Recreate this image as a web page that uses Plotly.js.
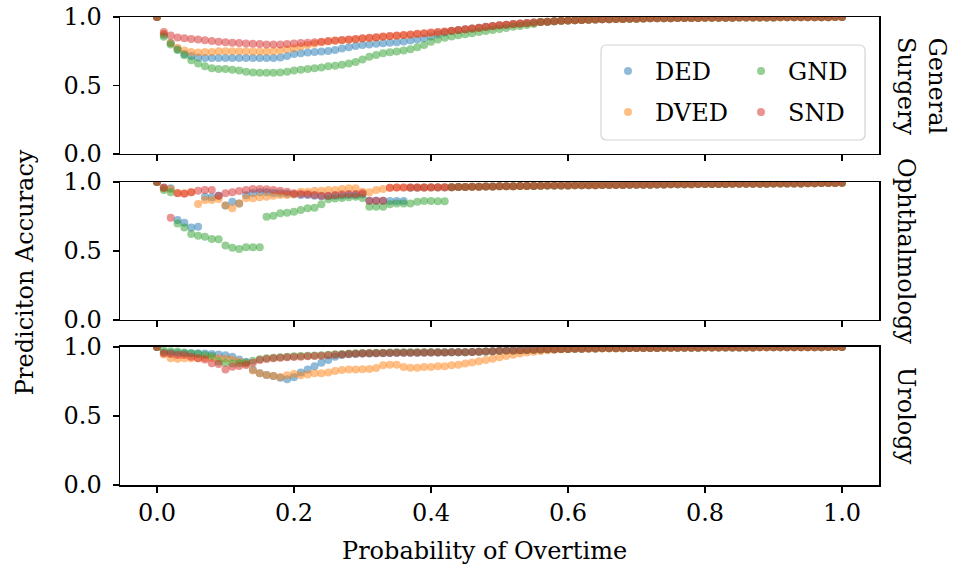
<!DOCTYPE html>
<html>
<head>
<meta charset="utf-8">
<script src="https://cdn.plot.ly/plotly-3.0.1.min.js"></script>
<style>html,body{margin:0;padding:0;background:#fff;}#chart{width:963px;height:573px;}</style>
</head>
<body>
<div id="chart"></div>
<script>
// Probability-of-overtime thresholds (x categories)
const probOvertime = [0,0.01,0.02,0.03,0.04,0.05,0.06,0.07,0.08,0.09,
  0.1,0.11,0.12,0.13,0.14,0.15,0.16,0.17,0.18,0.19,
  0.2,0.21,0.22,0.23,0.24,0.25,0.26,0.27,0.28,0.29,
  0.3,0.31,0.32,0.33,0.34,0.35,0.36,0.37,0.38,0.39,
  0.4,0.41,0.42,0.43,0.44,0.45,0.46,0.47,0.48,0.49,
  0.5,0.51,0.52,0.53,0.54,0.55,0.56,0.57,0.58,0.59,
  0.6,0.61,0.62,0.63,0.64,0.65,0.66,0.67,0.68,0.69,
  0.7,0.71,0.72,0.73,0.74,0.75,0.76,0.77,0.78,0.79,
  0.8,0.81,0.82,0.83,0.84,0.85,0.86,0.87,0.88,0.89,
  0.9,0.91,0.92,0.93,0.94,0.95,0.96,0.97,0.98,0.99,1.0];

const seriesNames = ["DED", "DVED", "GND", "SND"];
const panelNames = ["General<br>Surgery", "Ophthalmology", "Urology"];
const yTickVals = [0, 0.5, 1.0];
const yTickText = ["0.0", "0.5", "1.0"];
const xTickVals = [0, 0.2, 0.4, 0.6, 0.8, 1.0];
const xTickText = ["0.0", "0.2", "0.4", "0.6", "0.8", "1.0"];

// ---------- General Surgery (x = 0 .. 0.55, then shared tail 0.56 .. 1.0)
const gsTail = [0.963,0.966,0.969,0.972,
  0.974,0.976,0.978,0.98,0.982,0.983,0.984,0.985,0.986,0.987,
  0.988,0.989,0.99,0.99,0.991,0.991,0.992,0.992,0.993,0.993,
  0.994,0.994,0.995,0.995,0.995,0.996,0.996,0.996,0.997,0.997,
  0.997,0.998,0.998,0.998,0.998,0.999,0.999,0.999,0.999,1.0,1.0];
const gsDED = [1.0,0.87,0.81,0.765,0.73,0.715,0.705,0.70,0.70,0.70,
  0.70,0.70,0.70,0.70,0.70,0.70,0.70,0.70,0.705,0.715,
  0.73,0.735,0.74,0.745,0.748,0.752,0.76,0.77,0.78,0.788,
  0.795,0.80,0.805,0.808,0.812,0.815,0.822,0.828,0.835,0.845,
  0.858,0.872,0.885,0.897,0.905,0.91,0.916,0.922,0.928,0.934,
  0.94,0.944,0.948,0.952,0.956,0.96].concat(gsTail);
const gsDVED = [1.0,0.875,0.81,0.775,0.755,0.745,0.74,0.745,0.745,0.75,
  0.75,0.75,0.75,0.75,0.748,0.748,0.748,0.75,0.755,0.765,
  0.772,0.785,0.795,0.805,0.815,0.822,0.826,0.83,0.834,0.838,
  0.843,0.847,0.851,0.855,0.859,0.863,0.867,0.871,0.875,0.879,
  0.884,0.888,0.893,0.898,0.903,0.908,0.914,0.92,0.926,0.932,
  0.938,0.943,0.947,0.951,0.955,0.959].concat(gsTail);
const gsGND = [1.0,0.855,0.80,0.76,0.72,0.685,0.66,0.64,0.625,0.62,
  0.62,0.615,0.61,0.60,0.595,0.593,0.593,0.593,0.595,0.60,
  0.61,0.615,0.62,0.625,0.632,0.64,0.645,0.652,0.66,0.672,
  0.69,0.71,0.722,0.735,0.742,0.749,0.756,0.764,0.78,0.795,
  0.82,0.835,0.848,0.858,0.866,0.874,0.882,0.89,0.898,0.905,
  0.912,0.92,0.928,0.935,0.942,0.948].concat(gsTail);
const gsSND = [1.0,0.89,0.865,0.85,0.845,0.84,0.835,0.83,0.825,0.82,
  0.815,0.812,0.81,0.806,0.804,0.802,0.80,0.80,0.80,0.803,
  0.806,0.81,0.812,0.815,0.82,0.825,0.828,0.832,0.836,0.84,
  0.845,0.849,0.853,0.857,0.861,0.865,0.869,0.873,0.877,0.881,
  0.886,0.89,0.895,0.9,0.905,0.91,0.916,0.922,0.928,0.934,
  0.94,0.944,0.948,0.952,0.956,0.96].concat(gsTail);

// ---------- Ophthalmology (x = 0 .. 0.42, then shared tail 0.43 .. 1.0)
const ophTail = [0.962,0.963,0.964,0.965,0.966,0.967,0.968,
  0.969,0.97,0.97,0.971,0.972,0.972,0.973,0.974,0.974,0.975,
  0.975,0.976,0.976,0.977,0.977,0.978,0.978,0.979,0.979,0.98,
  0.98,0.981,0.981,0.982,0.982,0.983,0.983,0.984,0.984,0.985,
  0.985,0.985,0.986,0.986,0.987,0.987,0.987,0.988,0.988,0.988,
  0.989,0.989,0.99,0.99,0.99,0.991,0.991,0.992,0.992,0.993,0.995];
const ophDED = [1.0,0.96,0.955,0.725,0.705,0.671,0.676,0.894,0.89,0.901,
  0.829,0.857,0.845,0.905,0.918,0.925,0.925,0.92,0.918,0.915,
  0.912,0.906,0.906,0.90,0.896,0.896,0.90,0.903,0.906,0.906,
  0.91,0.865,0.865,0.865,0.862,0.862,0.862,0.958,0.959,0.96,
  0.96,0.961,0.961].concat(ophTail);
const ophDVED = [1.0,0.955,0.949,0.92,0.918,0.925,0.841,0.87,0.87,0.877,
  0.829,0.809,0.845,0.882,0.882,0.89,0.894,0.90,0.906,0.906,
  0.91,0.93,0.93,0.937,0.937,0.942,0.942,0.949,0.954,0.954,
  0.93,0.925,0.942,0.949,0.959,0.96,0.96,0.96,0.96,0.96,
  0.961,0.961,0.962].concat(ophTail);
const ophGND = [1.0,0.942,0.925,0.70,0.671,0.623,0.611,0.604,0.587,0.585,
  0.539,0.524,0.514,0.527,0.527,0.527,0.749,0.756,0.773,0.778,
  0.785,0.797,0.809,0.814,0.838,0.875,0.88,0.885,0.89,0.893,
  0.885,0.821,0.821,0.821,0.838,0.845,0.845,0.845,0.857,0.862,
  0.862,0.86,0.86].concat(ophTail);
const ophSND = [1.0,0.959,0.741,0.918,0.915,0.925,0.937,0.942,0.942,0.901,
  0.918,0.925,0.935,0.942,0.949,0.949,0.947,0.942,0.937,0.93,
  0.918,0.913,0.911,0.906,0.901,0.901,0.906,0.911,0.913,0.913,
  0.918,0.865,0.865,0.865,0.959,0.961,0.961,0.961,0.961,0.961,
  0.962,0.962,0.962].concat(ophTail);

// ---------- Urology (x = 0 .. 0.44, then shared tail 0.45 .. 1.0)
const uroTail = [0.962,0.964,0.966,0.968,0.97,
  0.972,0.974,0.975,0.977,0.978,0.98,0.981,0.983,0.984,0.985,
  0.986,0.987,0.988,0.989,0.989,0.99,0.99,0.991,0.991,0.992,
  0.992,0.993,0.993,0.993,0.994,0.994,0.994,0.995,0.995,0.995,
  0.996,0.996,0.996,0.996,0.997,0.997,0.997,0.997,0.998,0.998,
  0.998,0.998,0.998,0.999,0.999,0.999,0.999,0.999,1.0,1.0,1.0];
const uroDED = [1.0,0.96,0.958,0.956,0.954,0.954,0.954,0.952,0.95,0.945,
  0.94,0.93,0.91,0.893,0.835,0.809,0.797,0.79,0.778,0.766,
  0.78,0.815,0.836,0.861,0.886,0.906,0.93,0.942,0.948,0.95,
  0.952,0.953,0.954,0.955,0.956,0.957,0.958,0.958,0.959,0.959,
  0.96,0.96,0.96,0.961,0.961].concat(uroTail);
const uroDVED = [1.0,0.945,0.918,0.915,0.918,0.918,0.918,0.92,0.92,0.918,
  0.915,0.91,0.895,0.88,0.83,0.81,0.797,0.79,0.782,0.795,
  0.805,0.795,0.80,0.809,0.81,0.816,0.826,0.833,0.836,0.836,
  0.838,0.84,0.848,0.867,0.872,0.872,0.855,0.85,0.85,0.855,
  0.855,0.86,0.86,0.867,0.872,0.88,0.888,0.896,0.905,0.915,
  0.925,0.935,0.943,0.952,0.96,0.966,0.971,0.976,0.98,0.984,
  0.986].concat(uroTail.slice(16));
const uroGND = [1.0,0.975,0.97,0.968,0.96,0.955,0.95,0.942,0.935,0.894,
  0.886,0.88,0.883,0.886,0.90,0.912,0.918,0.922,0.926,0.929,
  0.932,0.934,0.936,0.939,0.941,0.944,0.947,0.95,0.952,0.954,
  0.956,0.957,0.958,0.959,0.96,0.961,0.961,0.962,0.962,0.962,
  0.962,0.962,0.962,0.962,0.962].concat(uroTail);
const uroSND = [1.0,0.955,0.95,0.942,0.942,0.93,0.918,0.91,0.882,0.877,
  0.836,0.857,0.862,0.87,0.886,0.905,0.913,0.918,0.922,0.925,
  0.928,0.93,0.932,0.935,0.937,0.94,0.943,0.946,0.949,0.951,
  0.953,0.954,0.955,0.956,0.957,0.958,0.958,0.959,0.959,0.96,
  0.96,0.96,0.96,0.961,0.961].concat(uroTail);

const panelData = [
  [gsDED, gsDVED, gsGND, gsSND],
  [ophDED, ophDVED, ophGND, ophSND],
  [uroDED, uroDVED, uroGND, uroSND]
];
const colors = ["rgba(31,119,180,0.5)", "rgba(255,127,14,0.5)", "rgba(44,160,44,0.5)", "rgba(214,39,40,0.5)"];

const FONT = "DejaVu Serif";
const FS = 24;
const traces = [];
panelData.forEach(function(series, p) {
  series.forEach(function(vals, s) {
    traces.push({
      type: "scatter", mode: "markers",
      x: probOvertime, y: vals,
      xaxis: p === 0 ? "x" : "x" + (p + 1),
      yaxis: p === 0 ? "y" : "y" + (p + 1),
      name: seriesNames[s],
      marker: {size: 8, color: colors[s], line: {width: 0}},
      showlegend: p === 0,
      legend: s < 2 ? "legend" : "legend2",
      legendgroup: seriesNames[s],
      hoverinfo: "x+y+name"
    });
  });
});

const xRange = [-0.054, 1.054];
function xAxis(anchor, showLabels) {
  return {
    anchor: anchor, domain: [0, 1], range: xRange,
    tickvals: xTickVals, ticktext: xTickText, showticklabels: showLabels,
    ticks: "outside", ticklen: 6, tickwidth: 1.5, tickcolor: "#000",
    showline: true, linecolor: "#000", linewidth: 1.5, mirror: true,
    showgrid: false, zeroline: false,
    tickfont: {family: FONT, size: FS, color: "#000"}
  };
}
function yAxis(domain, anchor) {
  return {
    anchor: anchor, domain: domain, range: [0, 1.0],
    tickvals: yTickVals, ticktext: yTickText,
    ticks: "outside", ticklen: 6, tickwidth: 1.5, tickcolor: "#000",
    ticklabelstandoff: 6,
    showline: true, linecolor: "#000", linewidth: 1.5, mirror: true,
    showgrid: false, zeroline: false,
    tickfont: {family: FONT, size: FS, color: "#000"}
  };
}

// rounded legend frame (paper coords)
const bx0 = 0.6337, bx1 = 0.9816, by0 = 0.7372, by1 = 0.9402, rx = 0.0079, ry = 0.0128;
const framePath = "M" + (bx0 + rx) + "," + by0 + " L" + (bx1 - rx) + "," + by0 +
  " Q" + bx1 + "," + by0 + " " + bx1 + "," + (by0 + ry) +
  " L" + bx1 + "," + (by1 - ry) + " Q" + bx1 + "," + by1 + " " + (bx1 - rx) + "," + by1 +
  " L" + (bx0 + rx) + "," + by1 + " Q" + bx0 + "," + by1 + " " + bx0 + "," + (by1 - ry) +
  " L" + bx0 + "," + (by0 + ry) + " Q" + bx0 + "," + by0 + " " + (bx0 + rx) + "," + by0 + " Z";

const annFont = {family: FONT, size: FS, color: "#000"};
const legFont = {family: FONT, size: FS, color: "#000"};
const layout = {
  width: 963, height: 573,
  margin: {l: 120, r: 84, t: 17, b: 88},
  paper_bgcolor: "#fff", plot_bgcolor: "#fff",
  font: {family: FONT, size: FS, color: "#000"},
  xaxis: xAxis("y", false),
  xaxis2: xAxis("y2", false),
  xaxis3: xAxis("y3", true),
  yaxis: yAxis([0.7073, 1], "x"),
  yaxis2: yAxis([0.3526, 0.6474], "x2"),
  yaxis3: yAxis([0, 0.2949], "x3"),
  legend: {x: 0.6337, y: 0.932, xanchor: "left", yanchor: "top", bgcolor: "rgba(0,0,0,0)",
           borderwidth: 0, font: legFont, tracegroupgap: 7, itemwidth: 44},
  legend2: {x: 0.809, y: 0.932, xanchor: "left", yanchor: "top", bgcolor: "rgba(0,0,0,0)",
           borderwidth: 0, font: legFont, tracegroupgap: 7, itemwidth: 44},
  shapes: [{type: "path", xref: "paper", yref: "paper", path: framePath,
            fillcolor: "rgba(255,255,255,0.8)", line: {color: "#d4d4d4", width: 1.2}, layer: "above"}],
  annotations: [
    {text: panelNames[0], xref: "paper", yref: "paper", x: 1, y: 0.8537, xanchor: "left", yanchor: "middle",
     xshift: 11, textangle: 90, showarrow: false, font: annFont, align: "center"},
    {text: panelNames[1], xref: "paper", yref: "paper", x: 1, y: 0.5, xanchor: "left", yanchor: "middle",
     xshift: 11, textangle: 90, showarrow: false, font: annFont},
    {text: panelNames[2], xref: "paper", yref: "paper", x: 1, y: 0.1474, xanchor: "left", yanchor: "middle",
     xshift: 11, textangle: 90, showarrow: false, font: annFont},
    {text: "Prediciton Accuracy", xref: "paper", yref: "paper", x: -0.125, y: 0.455, xanchor: "center", yanchor: "middle",
     textangle: -90, showarrow: false, font: annFont},
    {text: "Probability of Overtime", xref: "paper", yref: "paper", x: 0.4796, y: -0.141, xanchor: "center", yanchor: "middle",
     showarrow: false, font: annFont}
  ]
};

Plotly.newPlot("chart", traces, layout, {staticPlot: true, displayModeBar: false});
</script>
</body>
</html>
